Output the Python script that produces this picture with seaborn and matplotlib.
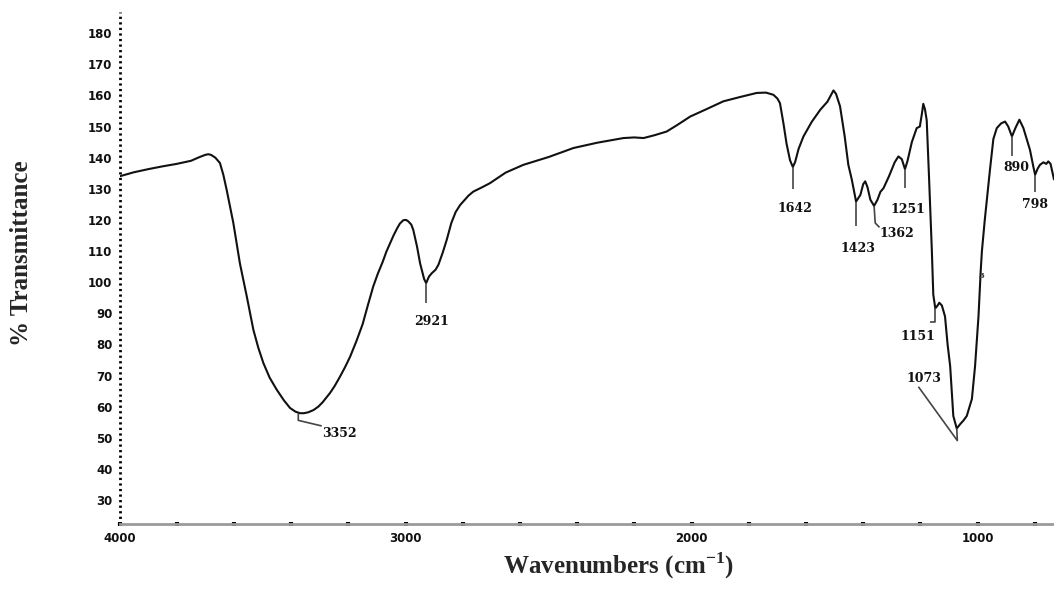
import numpy as np
import pandas as pd
import matplotlib
matplotlib.use("Agg")
import matplotlib.pyplot as plt
import seaborn as sns

# ---- spectrum data (wavenumber, %T) ----
wavenumber = [4000, 3950, 3900, 3850, 3800, 3750, 3720, 3700, 3690, 3680, 3665, 3649, 3637, 3625,
              3602, 3579, 3555, 3532, 3515, 3497, 3475, 3450, 3425, 3404, 3385, 3369, 3355, 3340,
              3322, 3305, 3290, 3278, 3264, 3248, 3230, 3212, 3194, 3172, 3150, 3132, 3113, 3097,
              3080, 3067, 3054, 3042, 3030, 3020, 3008, 2998, 2990, 2980, 2973,
              2960, 2949, 2935, 2928, 2918, 2908, 2895, 2885, 2870, 2856, 2840,
              2825, 2809, 2780, 2763, 2730, 2705, 2650, 2588, 2500, 2413, 2330,
              2238, 2200, 2168, 2130, 2087, 2050, 2005, 1950, 1889, 1830, 1772,
              1740, 1714, 1700, 1691, 1679, 1668, 1656, 1646, 1638, 1626, 1609, 1580, 1550,
              1525, 1510, 1504, 1495, 1481, 1465, 1452, 1440, 1425, 1410, 1400, 1393,
              1385, 1375, 1362, 1350, 1340, 1329, 1310, 1290, 1277, 1265, 1254,
              1245, 1230, 1213, 1202, 1195, 1190, 1184, 1178, 1170, 1160, 1155,
              1148, 1140, 1134, 1125, 1114, 1105, 1096, 1085, 1073, 1060, 1050,
              1038, 1020, 1009, 997, 989, 985, 975, 965, 957, 945, 933, 918, 904,
              893, 880, 868, 854, 840, 825, 817, 805, 799, 790, 782, 770, 760,
              753, 745, 733]
transmittance = [134.0, 135.3, 136.3, 137.2, 138.0, 139.0, 140.2, 140.9, 141.1, 140.9, 140.0, 138.3, 134.5, 129.5,
                 119.0, 106.0, 95.4, 84.7, 79.0, 74.0, 69.3, 65.4, 62.0, 59.6, 58.4, 57.9, 57.9, 58.2,
                 58.9, 60.0, 61.4, 62.8, 64.4, 66.6, 69.5, 72.6, 76.0, 81.0, 86.5, 92.5, 98.6, 102.7,
                 106.5, 109.8, 112.5, 115.0, 117.2, 118.8, 119.9, 120.0, 119.5, 118.5, 116.8,
                 111.5, 106.0, 101.0, 99.7, 101.8, 102.9, 104.0, 105.6, 109.5, 113.6, 119.0,
                 122.5, 124.8, 127.8, 129.1, 130.6, 131.8, 135.2, 137.7, 140.2, 143.1, 144.8,
                 146.3, 146.5, 146.3, 147.2, 148.4, 150.5, 153.2, 155.5, 158.1, 159.5, 160.8,
                 160.9, 160.2, 159.0, 157.5, 151.1, 144.5, 139.2, 137.0, 138.6, 142.8, 146.8, 151.5, 155.4,
                 158.0, 160.6, 161.6, 160.5, 156.5, 147.0, 137.7, 133.0, 125.9, 128.0, 131.5, 132.4,
                 130.5, 126.5, 124.5, 126.5, 129.0, 130.2, 134.0, 138.5, 140.4, 139.5, 136.3,
                 139.0, 145.0, 149.5, 150.0, 154.0, 157.3, 155.5, 152.0, 134.0, 110.0, 96.0,
                 91.6, 92.5, 93.4, 92.5, 89.0, 80.0, 73.0, 57.0, 53.0, 54.5, 55.5,
                 57.0, 62.5, 73.0, 89.0, 104.0, 110.0, 120.0, 129.0, 136.0, 146.0, 149.5, 151.0, 151.6,
                 150.0, 146.8, 149.5, 152.2, 149.5, 145.0, 142.5, 137.0, 134.5, 136.5, 137.7, 138.5, 138.0,
                 138.8, 138.0, 133.0]

# ---- peak annotations ----
peak_labels = ["3352", "2921", "1642", "1423", "1362", "1251", "1151", "1073", "890", "798"]
# leader-line paths (wavenumber, %T) and label centres
peak_paths = [
    [(3375, 57.9), (3375, 55.6), (3293, 53.8)],
    [(2928, 99.7), (2928, 93.4)],
    [(1646, 137.0), (1646, 129.9)],
    [(1425, 125.9), (1425, 117.9)],
    [(1362, 124.5), (1358, 119.0), (1343, 117.6)],
    [(1254, 136.3), (1254, 130.2)],
    [(1148, 91.6), (1148, 87.3), (1168, 87.3)],
    [(1207, 66.4), (1071, 49.1), (1073, 53.0)],
    [(880, 146.8), (880, 140.4)],
    [(799, 134.5), (799, 129.1)],
]
label_x = [3232, 2908, 1638, 1420, 1283, 1245, 1207, 1189, 865, 799]
label_y = [51.5, 87.3, 123.8, 110.9, 115.5, 123.2, 82.5, 69.1, 137.0, 124.9]

y_ticks = list(range(30, 190, 10))
x_ticks = [4000, 3000, 2000, 1000]

sns.set_theme(style="white")
plt.rcParams["font.family"] = ["DejaVu Sans"]
plt.rcParams["mathtext.fontset"] = "custom"
plt.rcParams["mathtext.bf"] = "Liberation Serif:bold"
plt.rcParams["mathtext.rm"] = "Liberation Serif:bold"

W, H = 1054, 595
fig = plt.figure(figsize=(W / 100, H / 100), dpi=100)
ax = fig.add_axes([119.5 / W, 1 - 524 / H, 1 - 119.5 / W, (524 - 12) / H])

df = pd.DataFrame({"wn": wavenumber, "T": transmittance})
sns.lineplot(data=df, x="wn", y="T", sort=False, estimator=None,
             color="#111111", lw=1.5, ax=ax)

for path, lab, lx, ly in zip(peak_paths, peak_labels, label_x, label_y):
    px, py = zip(*path)
    ax.plot(px, py, color="#444444", lw=1.2, solid_capstyle="butt")
    ax.text(lx, ly, lab, ha="center", va="center", fontsize=9,
            fontweight="bold", family="DejaVu Serif", color="#111111")

# stray mark on the right side of the big band
ax.text(987, 102, "3", fontsize=6, fontweight="bold", color="#333333",
        ha="center", va="center", family="DejaVu Serif")

ax.set_xlim(4000, 733)
ax.set_ylim(22.3, 186.8)
ax.set_yticks(y_ticks)
ax.set_xticks(x_ticks)
ax.set_xticks(np.arange(3800, 733, -200), minor=True)
ax.set_xlabel("")
ax.set_ylabel("")

for s in ["top", "right"]:
    ax.spines[s].set_visible(False)
ax.spines["left"].set_linestyle((0, (0.8, 1.2)))
ax.spines["left"].set_linewidth(2.0)
ax.spines["left"].set_capstyle("butt")
ax.spines["left"].set_color("black")
ax.spines["bottom"].set_linewidth(2.0)
ax.spines["bottom"].set_color("#9a9a9a")

ax.tick_params(axis="y", which="major", direction="out", length=3, width=2.2,
               color="black", pad=2, labelsize=8.5)
ax.tick_params(axis="x", which="both", direction="inout", length=3, width=3,
               color="black", bottom=True, pad=4, labelsize=8.5)
for t in ax.get_xticklabels() + ax.get_yticklabels():
    t.set_fontweight("bold")
    t.set_family("DejaVu Sans")
    t.set_color("#111111")

fig.text(22 / W, 1 - 253 / H, "% Transmittance", rotation=90, ha="center",
         va="center", fontsize=18, fontweight="bold", family="Liberation Serif")
fig.text(618 / W, 1 - 566 / H, r"Wavenumbers (cm$^{\mathbf{-1}}$)", ha="center",
         va="center", fontsize=18, fontweight="bold", family="Liberation Serif")

fig.savefig("out.png", dpi=100)
